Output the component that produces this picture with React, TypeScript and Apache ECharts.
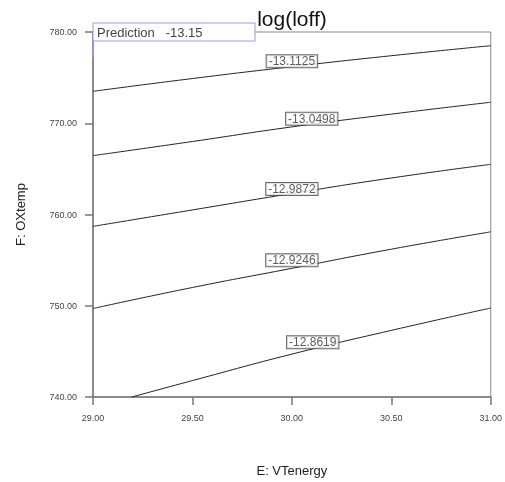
import React, { useEffect, useRef } from "react";
import * as echarts from "echarts";

// Contour levels of log(Ioff)
const levels = ["-13.1125", "-13.0498", "-12.9872", "-12.9246", "-12.8619"];
// E: VTenergy sample points for each contour
const xCommon = [29.0, 29.5, 30.0, 30.5, 31.0];
const xLast = [29.195, 29.5, 30.0, 30.5, 31.0];
// F: OXtemp values along each contour
const c1 = [773.5, 774.9, 776.2, 777.4, 778.5];
const c2 = [766.45, 768.0, 769.6, 771.0, 772.3];
const c3 = [758.7, 760.5, 762.3, 764.0, 765.5];
const c4 = [749.7, 752.0, 754.1, 756.2, 758.1];
const c5 = [740.0, 741.8, 744.7, 747.3, 749.75];
// Label anchor positions
const labelX = [30.0, 30.1, 30.0, 30.0, 30.105];
const labelY = [776.8, 770.5, 762.8, 755.0, 746.0];
const predictionText = "Prediction   -13.15";
const titleText = "log(loff)";

const FONT = "'Liberation Sans', Arial, sans-serif";

export default function App() {
  const ref = useRef<HTMLDivElement>(null);
  useEffect(() => {
    if (!ref.current) return;
    const chart = echarts.init(ref.current, null, { renderer: "svg" });
    const contours = [c1, c2, c3, c4, c5];
    const lineSeries = contours.map((ys, i) => ({
      type: "line",
      name: levels[i],
      data: ys.map((y, j) => [(i === 4 ? xLast : xCommon)[j], y]),
      symbol: "none",
      smooth: true,
      lineStyle: { color: "#222", width: 1 },
      z: 2,
    }));
    const labelSeries = {
      type: "scatter",
      data: levels.map((l, i) => ({ value: [labelX[i], labelY[i]], name: l })),
      symbolSize: 0,
      z: 5,
      label: {
        show: true,
        position: "inside",
        formatter: (p: any) => p.name,
        fontFamily: FONT,
        fontSize: 12,
        color: "#333",
        backgroundColor: "#fff",
        borderColor: "#444",
        borderWidth: 1,
        padding: [0, 2, 0, 2],
      },
    };
    chart.setOption({
      animation: false,
      grid: {
        left: 93,
        right: 13,
        top: 32,
        bottom: 85,
        show: true,
        borderColor: "#888",
        borderWidth: 1,
      },
      xAxis: {
        type: "value",
        min: 29,
        max: 31,
        interval: 0.5,
        name: "E: VTenergy",
        nameLocation: "middle",
        nameGap: 67,
        nameTextStyle: { fontFamily: FONT, fontSize: 13, color: "#222" },
        axisLine: { show: true, lineStyle: { color: "#777", width: 1.5 } },
        axisTick: { show: true, length: 8, lineStyle: { color: "#777", width: 1.5 } },
        axisLabel: {
          formatter: (v: number) => v.toFixed(2),
          fontFamily: FONT,
          fontSize: 9,
          color: "#444",
          margin: 16,
        },
        splitLine: { show: false },
      },
      yAxis: {
        type: "value",
        min: 740,
        max: 780,
        interval: 10,
        name: "F: OXtemp",
        nameLocation: "middle",
        nameGap: 66,
        nameTextStyle: { fontFamily: FONT, fontSize: 13, color: "#222" },
        axisLine: { show: true, lineStyle: { color: "#777", width: 1.5 } },
        axisTick: { show: true, length: 8, lineStyle: { color: "#777", width: 1.5 } },
        axisLabel: {
          formatter: (v: number) => v.toFixed(2),
          fontFamily: FONT,
          fontSize: 9,
          color: "#444",
          margin: 16,
        },
        splitLine: { show: false },
      },
      graphic: [
        {
          type: "text",
          x: 292,
          y: 18,
          z: 10,
          style: {
            text: titleText,
            font: `21px ${FONT}`,
            fill: "#111",
            textAlign: "center",
            textVerticalAlign: "middle",
          },
        },
        {
          type: "rect",
          z: 10,
          shape: { x: 93, y: 23, width: 162, height: 18 },
          style: { fill: "#fff", stroke: "#9a9aee", lineWidth: 1 },
        },
        {
          type: "line",
          z: 10,
          shape: { x1: 93, y1: 41, x2: 93, y2: 57 },
          style: { stroke: "#9a9aee", lineWidth: 1.5 },
        },
        {
          type: "text",
          x: 97,
          y: 32,
          z: 11,
          style: {
            text: predictionText,
            font: `13px ${FONT}`,
            fill: "#444",
            textVerticalAlign: "middle",
          },
        },
      ],
      series: [...lineSeries, labelSeries],
    });
    return () => chart.dispose();
  }, []);
  return (
    <div
      ref={ref}
      style={{ position: "fixed", left: 0, top: 0, width: 505, height: 482 }}
    />
  );
}
